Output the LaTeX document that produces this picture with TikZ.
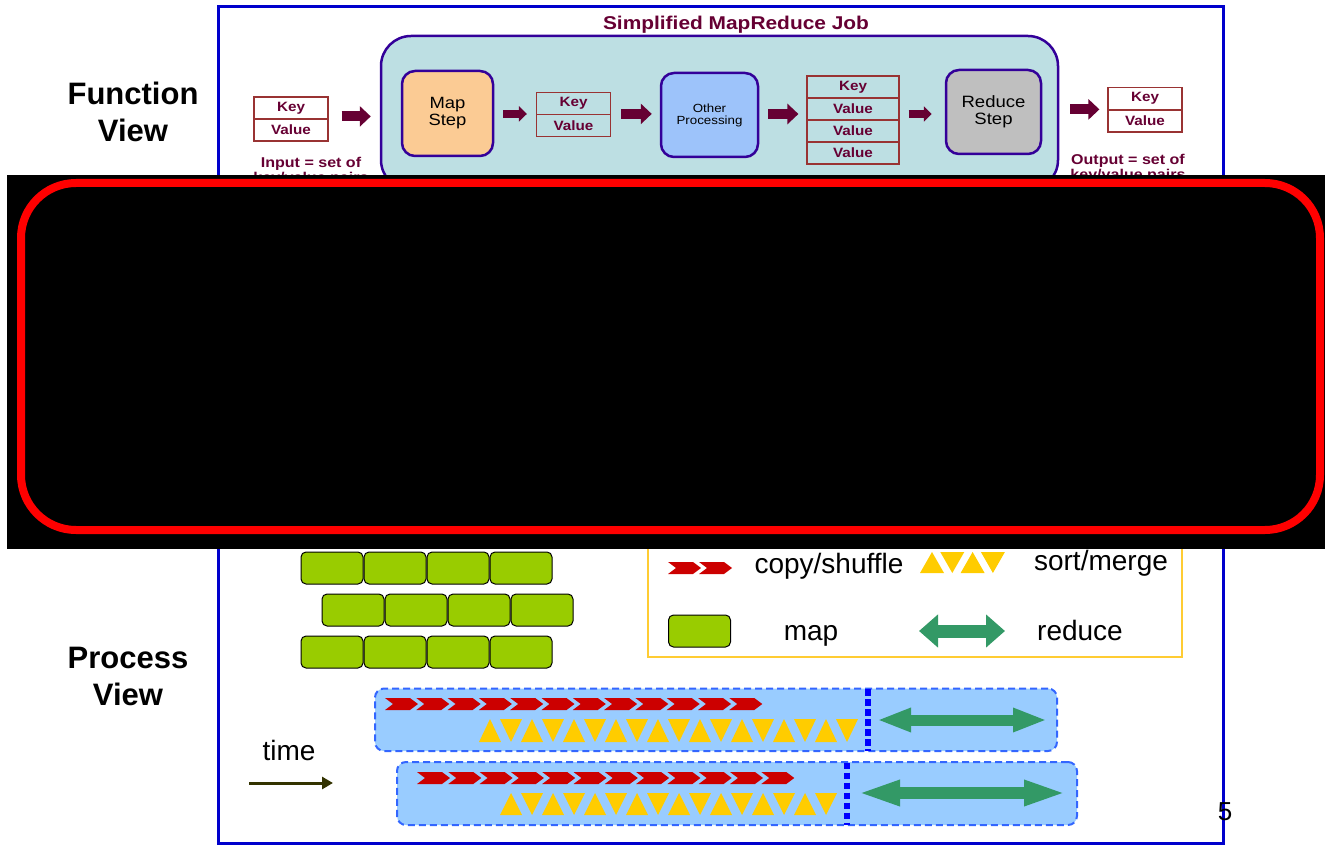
\documentclass[tikz,border=0pt]{standalone}
\usepackage{fontspec}
\usepackage{graphicx}
\setmainfont{Liberation Sans}
\newfontfamily\widefont[FakeStretch=1.13]{Liberation Sans}
\usetikzlibrary{arrows.meta}
\definecolor{mrn}{HTML}{660033}
\definecolor{kvborder}{HTML}{993333}
\definecolor{jobfill}{HTML}{BDDFE3}
\definecolor{jobedge}{HTML}{330099}
\definecolor{mapfill}{HTML}{FBCB94}
\definecolor{otherfill}{HTML}{9DC3FA}
\definecolor{redfill}{HTML}{BFBFBF}
\definecolor{frameblue}{HTML}{0000CC}
\definecolor{mapgreen}{HTML}{99CC00}
\definecolor{barfill}{HTML}{99CCFF}
\definecolor{baredge}{HTML}{3366FF}
\definecolor{sepblue}{HTML}{0000FF}
\definecolor{triy}{HTML}{FFCC00}
\definecolor{chevred}{HTML}{CC0000}
\definecolor{redgreen}{HTML}{339966}
\definecolor{timecol}{HTML}{333300}
\definecolor{legedge}{HTML}{FFCC33}
\newcommand\myfs[2]{\fontsize{#1}{#2}\selectfont}
\newcommand\chevron[2]{\fill[chevred] (#1,#2) ++(0,-6) -- ++(25,0) -- ++(8,6) -- ++(-8,6) -- ++(-25,0) -- ++(8,-6) -- cycle;}
\newcommand\utri[4]{\fill[triy] (#1,{#2+#4}) -- ++({#3/2},{-#4}) -- ++({#3/2},{#4}) -- cycle;}
\newcommand\dtri[4]{\fill[triy] (#1,#2) -- ++(#3,0) -- ++({-#3/2},{#4}) -- cycle;}
\tikzset{
  kv/.style={draw=kvborder, line width=1.2pt, minimum width=74pt, minimum height=22pt, inner sep=0pt,
    font=\widefont\bfseries\myfs{13.5}{16}, text=mrn},
  proc/.style={draw=jobedge, line width=2.5pt, rounded corners=13pt, inner sep=0pt, align=center},
  note/.style={font=\widefont\bfseries\myfs{14.2}{15}, text=mrn, align=center, inner sep=0pt},
  bigarr/.style={draw=mrn, line width=10pt, -{Triangle[length=11pt,width=20pt]}},
  smallarr/.style={draw=mrn, line width=8pt, -{Triangle[length=8pt,width=15pt]}},
  mapblk/.style={draw=black, line width=1pt, fill=mapgreen, rounded corners=5pt, minimum width=62pt, minimum height=32pt, inner sep=0pt},
  bar/.style={draw=baredge, fill=barfill, line width=2pt, dash pattern=on 7pt off 4pt, rounded corners=9pt, inner sep=0pt},
  sep/.style={draw=sepblue, line width=6.5pt, dash pattern=on 6.5pt off 3.5pt},
  lbl/.style={font=\myfs{28}{33}, inner sep=0pt},
  side/.style={font=\bfseries\myfs{31}{37}, align=center, inner sep=0pt},
  timearr/.style={draw=timecol, line width=3pt, -{Triangle[length=11pt,width=12pt]}}
}
\begin{document}
\begin{tikzpicture}[x=1pt,y=-1pt]
\useasboundingbox (0,0) rectangle (1325,845);
\draw[draw=frameblue, line width=3pt] (218,7) rectangle (1223,843);
% side labels
\node[side] (fv) at (133,111.5) {Function\\View};
\node[side] (pv) at (128,676.5) {Process\\View};
% function view
\node[font=\widefont\bfseries\myfs{18.5}{22}, text=mrn, inner sep=0pt] (title) at (736,25) {Simplified MapReduce Job};
\node[draw=jobedge, fill=jobfill, line width=2.5pt, rounded corners=30pt, minimum width=677pt, minimum height=154pt, inner sep=0pt] (job) at (719.5,113) {};
\node[kv] (ink) at (291,108) {Key};
\node[kv] (inv) at (291,130) {Value};
\node[note] (intext) at (311,171) {Input = set of\\key/value pairs};
\node[proc, fill=mapfill, minimum width=91pt, minimum height=85pt, font=\widefont\myfs{16.3}{17}] (map) at (447.5,113.5) {Map\\Step};
\node[kv] (midk) at (573.5,103.5) {Key};
\node[kv] (midv) at (573.5,125.5) {Value};
\node[proc, fill=otherfill, minimum width=97pt, minimum height=84pt, font=\widefont\myfs{11.8}{12}] (other) at (709.5,115) {Other\\Processing};
\node[kv, minimum width=92pt] (gk) at (853,87) {Key};
\node[kv, minimum width=92pt] (gv1) at (853,109) {Value};
\node[kv, minimum width=92pt] (gv2) at (853,131) {Value};
\node[kv, minimum width=92pt] (gv3) at (853,153) {Value};
\node[proc, fill=redfill, minimum width=95pt, minimum height=84pt, font=\widefont\myfs{16.4}{17}] (reduce) at (993.5,112) {Reduce\\Step};
\node[kv] (outk) at (1145,98.5) {Key};
\node[kv] (outv) at (1145,121) {Value};
\node[note] (outtext) at (1128,168) {Output = set of\\key/value pairs};
% function view arrows
\draw[bigarr, shorten <=13pt, shorten >=30pt] ([yshift=2pt]inv.north east) -- ([yshift=2pt]inv.north east -| map.west);
\draw[smallarr, shorten <=9pt, shorten >=9pt] (map.east |- midv.north west) -- (midv.north west);
\draw[bigarr, shorten <=10pt, shorten >=8pt] (midv.north east) -- (midv.north east -| other.west);
\draw[bigarr, shorten <=9pt, shorten >=8pt] ([yshift=1pt]other.east) -- ([yshift=1pt]other.east -| gk.west);
\draw[smallarr, shorten <=9pt, shorten >=13pt] ([yshift=1pt]other.east -| gk.east) -- ([yshift=1pt]other.east -| reduce.west);
\draw[bigarr, shorten <=11pt, shorten >=8pt] (job.east |- outv.north west) -- (outv.north west);
% legend
\node[draw=legedge, line width=1.2pt, minimum width=534pt, minimum height=137pt, inner sep=0pt] (legend) at (915,588.5) {};
\chevron{668}{568}
\chevron{699}{568}
\node[lbl] (lcopy) at (829,566) {copy/shuffle};
\utri{920}{552}{24}{21}
\dtri{940.3}{552}{24}{21}
\utri{960.6}{552}{24}{21}
\dtri{980.9}{552}{24}{21}
\node[lbl] (lsort) at (1101,563) {sort/merge};
\node[mapblk] (lmap) at (699.5,631) {};
\node[lbl] (lmaptext) at (811,636) {map};
\draw[draw=redgreen, line width=13pt, {Triangle[length=19pt,width=32pt]}-{Triangle[length=19pt,width=32pt]}] (919,631) -- (1005,631);
\node[lbl] (lred) at (1080,630) {reduce};
% map blocks
\foreach \c [count=\i] in {332,395,458,521} {
  \node[mapblk] (ma\i) at (\c,568) {};
  \node[mapblk] (mc\i) at (\c,652) {};
}
\foreach \c [count=\i] in {353,416,479,542} {
  \node[mapblk] (mb\i) at (\c,610) {};
}
% bars
\node[bar, minimum width=682pt, minimum height=62.5pt] (bar1) at (716,719.75) {};
\node[bar, minimum width=680pt, minimum height=63pt] (bar2) at (737,793.5) {};
\draw[sep] (868,689) -- (868,751);
\draw[sep] (847,762.5) -- (847,825);
\foreach \k in {0,...,11} {\chevron{385+31.3*\k}{704}}
\foreach \k in {0,...,11} {\chevron{417+31.3*\k}{778}}
\foreach \k in {0,...,8} {\utri{479+42*\k}{719}{22}{23} \dtri{500+42*\k}{719}{22}{23}}
\foreach \k in {0,...,7} {\utri{500+42*\k}{793}{22}{22} \dtri{521+42*\k}{793}{22}{22}}
\draw[draw=redgreen, line width=11pt, {Triangle[length=34pt,width=22pt]}-{Triangle[length=34pt,width=22pt]}] (877,720) -- (1047,720);
\draw[draw=redgreen, line width=12pt, {Triangle[length=43pt,width=23pt]}-{Triangle[length=43pt,width=23pt]}] (857,793) -- (1067,793);
% time
\node[lbl] (time) at (289,750) {time};
\coordinate (t0) at (249,783);
\coordinate (t1) at (333,783);
\draw[timearr] (t0) -- (t1);
\node[font=\myfs{26}{30}, inner sep=0pt] (pg) at (1225,812) {5};
% redaction
\fill[black] (7,175) rectangle (1325,549);
\draw[red, line width=8pt, rounded corners=55pt] (21,183) rectangle (1320,530);
\end{tikzpicture}
\end{document}
